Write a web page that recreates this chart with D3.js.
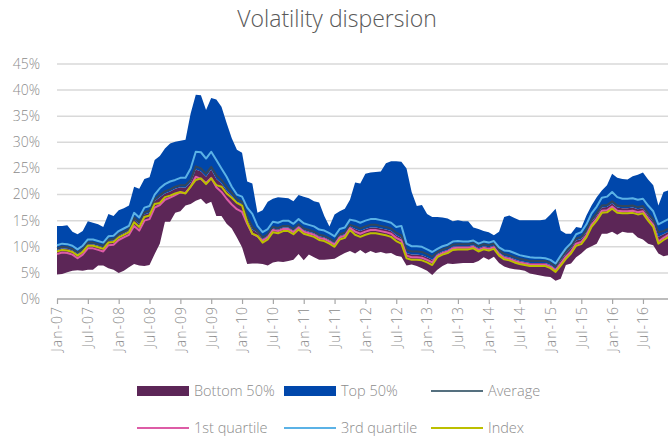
<!DOCTYPE html>
<html>
<head>
<meta charset="utf-8">
<script src="https://cdn.jsdelivr.net/npm/d3@7"></script>
<style>
  body { margin: 0; background: #fff; }
  svg { display: block; font-family: "Open Sans", "Segoe UI", sans-serif; font-weight: 300; }
</style>
</head>
<body>
<div id="chart"></div>
<script>
// monthly observations, Jan-07 .. Dec-16
var months = d3.timeMonth.range(new Date(2007, 0, 1), new Date(2017, 0, 1));

// bottom of the dispersion band
var minVol = [4.7,4.8,5.1,5.4,5.5,5.4,5.6,5.6,6.4,6.4, 5.9,5.6,5.0,5.4,6.1,6.7,6.4,6.3,6.5,8.6,
  10.6,14.8,14.8,16.5,16.8,17.9,18.2,18.8,19.2,18.2, 18.6,15.9,15.9,14.4,13.5,11.8,9.9,6.7,6.8,6.8,
  6.7,6.4,7.0,7.2,7.1,7.3,7.5,8.6,7.4,8.5, 8.0,7.5,7.5,7.6,7.7,8.3,8.8,9.2,8.7,9.4,
  8.7,9.2,8.8,9.0,8.7,8.8,8.3,8.1,6.4,6.6, 6.3,5.9,5.4,4.6,5.6,6.3,6.8,6.7,6.8,6.9,
  6.9,6.9,7.3,8.0,7.5,8.1,6.9,6.2,5.9,5.7, 5.6,5.4,4.9,4.7,4.5,4.3,4.2,3.5,3.9,6.5,
  6.8,8.0,8.7,9.6,10.1,10.6,12.5,12.5,12.9,12.3, 12.9,12.7,12.7,11.8,11.4,10.6,10.3,8.7,8.2,8.4];

// median (split between bottom and top 50%)
var medVol = [9.4,9.7,9.6,9.3,8.6,9.3,10.5,10.5,10.2,9.9, 11.1,11.2,12.1,12.6,13.1,15.2,14.3,16.2,16.5,18.7,
  19.5,20.2,20.6,21.1,21.4,21.3,22.3,24.8,24.4,23.4, 24.8,23.0,22.1,20.8,19.7,18.6,18.2,15.4,13.3,12.7,
  11.5,12.1,13.5,13.3,13.7,13.7,13.1,14.0,13.2,12.9, 12.6,12.0,11.8,11.3,10.7,12.1,12.4,13.9,13.4,13.0,
  13.4,13.7,13.7,13.5,13.3,13.0,12.2,11.7,8.8,8.5, 8.5,8.4,8.0,7.5,8.6,9.1,9.4,10.0,10.1,10.1,
  10.1,10.3,9.7,10.1,9.9,10.2,8.9,8.2,8.0,7.6, 7.3,7.1,6.9,6.9,6.9,6.9,6.5,5.8,7.4,8.7,
  9.7,11.2,11.5,12.8,14.8,16.0,17.5,17.6,18.3,17.5, 17.4,17.4,17.5,17.2,17.4,16.0,14.8,11.9,12.4,12.9];

// top of the dispersion band
var maxVol = [14.0,14.0,14.1,12.9,12.4,13.0,14.9,14.6,14.3,13.8, 16.3,15.9,17.0,17.4,17.9,21.5,21.1,23.0,23.3,26.6,
  27.4,28.8,29.8,30.1,30.3,30.5,35.5,39.1,39.0,36.2, 38.5,38.2,36.8,33.7,30.8,28.6,28.0,22.5,22.1,16.5,
  17.0,18.6,19.2,19.5,19.4,19.3,18.7,19.9,19.6,19.3, 18.7,18.5,15.9,13.9,16.2,16.8,17.3,19.0,22.3,22.1,
  24.0,24.2,24.3,24.4,26.0,26.4,26.4,26.3,25.0,20.5, 17.8,18.0,16.3,15.7,15.7,15.6,15.4,14.9,15.1,14.9,
  14.9,13.7,13.4,13.0,12.8,12.2,12.9,15.7,16.0,15.5, 15.1,15.1,15.1,15.1,15.1,15.2,16.2,17.3,13.1,12.5,
  12.5,13.8,13.6,16.0,17.9,19.5,20.8,21.8,24.0,23.2, 23.0,22.9,23.5,23.8,24.2,22.9,21.8,17.9,20.5,20.8];

var avgVol = [9.7,10.0,9.9,9.6,8.9,9.6,10.8,10.8,10.5,10.2, 11.4,11.5,12.4,12.9,13.4,15.6,14.7,16.6,16.9,19.1,
  19.9,20.6,21.0,21.5,21.8,21.8,22.8,25.4,25.0,24.0, 25.3,23.7,22.8,21.5,20.3,19.1,18.6,15.8,13.8,13.0,
  11.8,12.4,13.8,13.6,14.0,14.0,13.4,14.3,13.5,13.2, 12.9,12.3,12.1,11.6,11.0,12.4,12.7,14.2,13.9,13.5,
  13.9,14.2,14.2,14.0,13.8,13.5,12.7,12.2,9.4,9.1, 9.1,9.0,8.6,8.1,9.0,9.5,9.8,10.4,10.5,10.5,
  10.5,10.7,10.1,10.5,10.3,10.6,9.3,8.6,8.4,8.0, 7.7,7.5,7.3,7.3,7.3,7.3,6.9,6.2,7.8,9.1,
  10.1,11.6,11.9,13.2,15.2,16.4,17.9,18.0,18.7,17.9, 17.8,17.8,17.9,17.6,17.8,16.4,15.2,12.8,13.0,13.5];

var q1Vol = [8.6,8.9,8.8,8.5,7.8,8.5,9.7,9.7,9.4,9.1, 10.3,10.4,11.3,11.8,12.3,14.0,13.1,15.0,15.3,17.5,
  18.0,19.0,19.4,19.9,20.4,20.3,21.5,23.4,23.0,22.2, 23.2,21.4,20.5,19.2,18.1,17.2,16.7,14.4,12.5,12.0,
  11.2,11.8,13.2,13.0,13.4,13.4,12.8,13.7,12.9,12.6, 12.3,11.7,11.5,11.0,10.4,11.8,12.1,13.6,12.9,12.5,
  12.9,13.2,13.2,13.0,12.8,12.5,11.7,11.2,8.3,8.0, 8.0,7.9,7.5,7.0,8.3,8.8,9.1,9.7,9.8,9.8,
  9.8,10.0,9.4,9.8,9.6,9.9,8.6,7.9,7.7,7.3, 7.0,6.8,6.6,6.6,6.6,6.6,6.2,5.5,6.8,8.1,
  9.1,10.6,10.9,12.2,14.2,15.4,16.9,17.0,17.7,16.9, 16.8,16.8,16.9,16.6,16.8,15.4,14.2,11.0,11.7,12.3];

var q3Vol = [10.3,10.6,10.5,10.2,9.5,10.2,11.4,11.4,11.1,10.8, 12.0,12.1,13.0,13.5,14.0,16.5,15.6,17.5,17.8,20.0,
  21.2,22.0,22.5,22.8,23.2,23.2,25.0,28.2,28.1,26.9, 28.2,26.6,25.0,23.4,21.5,20.0,19.6,17.5,16.3,14.0,
  12.8,13.4,14.8,14.6,15.0,15.0,14.4,15.3,14.5,14.2, 13.9,13.3,13.1,12.6,12.0,13.4,13.7,15.2,15.0,14.6,
  15.0,15.3,15.3,15.1,14.9,14.6,13.8,14.0,10.6,10.1, 10.1,10.0,9.5,9.0,9.6,10.1,10.4,11.0,11.1,11.0,
  11.0,11.2,10.6,11.0,10.8,11.1,9.9,9.3,9.2,8.8, 8.4,8.2,8.0,7.9,7.9,7.8,7.5,6.8,8.3,9.7,
  10.7,12.4,12.8,14.3,16.4,17.7,19.4,19.6,20.5,19.5, 19.2,19.2,19.3,19.0,19.2,17.9,16.8,14.3,14.8,15.3];

var indexVol = [9.1,9.4,9.3,9.0,8.3,9.0,10.2,10.2,9.9,9.6, 10.8,10.9,11.8,12.3,12.8,14.7,13.8,15.7,16.0,18.2,
  18.4,19.5,19.8,20.2,20.5,20.2,21.5,22.8,23.1,22.0, 23.1,21.8,21.5,20.2,19.4,18.4,17.9,14.7,12.5,12.1,
  10.8,11.4,12.8,12.6,13.0,13.0,12.4,13.3,12.5,12.2, 11.9,11.3,11.1,10.6,10.0,11.4,11.7,13.2,12.3,11.9,
  12.3,12.6,12.6,12.4,12.2,11.9,11.1,10.6,7.8,7.5, 7.5,7.4,7.0,6.5,8.0,8.5,8.8,9.4,9.5,9.5,
  9.5,9.7,9.1,9.5,9.3,9.6,8.3,7.6,7.4,7.0, 6.7,6.5,6.3,6.3,6.3,6.3,5.9,5.2,6.4,7.7,
  8.7,10.2,10.5,11.8,13.8,15.0,16.5,16.6,17.3,16.5, 16.4,16.4,16.5,16.2,16.4,15.0,13.8,10.6,11.3,11.9];

var yTicks = [0, 5, 10, 15, 20, 25, 30, 35, 40, 45];

var colors = {
  bottom: "#5c2657",
  top: "#0047ab",
  avg: "#33475c",
  q1: "#dd5ca6",
  q3: "#5bb2e6",
  index: "#bcbf00"
};

var W = 668, H = 438;
var margin = { top: 64, right: 0, bottom: 139, left: 57 };

var svg = d3.select("#chart").append("svg")
  .attr("width", W)
  .attr("height", H);

var fmtMonth = d3.timeFormat("%b-%y");
var labels = months.map(fmtMonth);

var x = d3.scalePoint()
  .domain(labels)
  .range([margin.left, margin.left + 5.14 * (labels.length - 1)]);

var y = d3.scaleLinear()
  .domain([0, 45])
  .range([H - margin.bottom, margin.top]);

// title
svg.append("text")
  .attr("x", 337)
  .attr("y", 27)
  .attr("text-anchor", "middle")
  .style("font-size", "23px")
  .style("fill", "#595959")
  .text("Volatility dispersion");

// gridlines
svg.append("g")
  .selectAll("line")
  .data(yTicks.slice(1))
  .enter()
  .append("line")
  .attr("x1", margin.left)
  .attr("x2", W)
  .attr("y1", function (d) { return y(d); })
  .attr("y2", function (d) { return y(d); })
  .attr("stroke", "#d9d9d9")
  .attr("stroke-width", 1.5);

var rows = labels.map(function (m, i) {
  return { m: m, min: minVol[i], med: medVol[i], max: maxVol[i],
    avg: avgVol[i], q1: q1Vol[i], q3: q3Vol[i], idx: indexVol[i] };
});

var bottomArea = d3.area()
  .x(function (d) { return x(d.m); })
  .y0(function (d) { return y(d.min); })
  .y1(function (d) { return y(d.med); });

var topArea = d3.area()
  .x(function (d) { return x(d.m); })
  .y0(function (d) { return y(d.med); })
  .y1(function (d) { return y(d.max); });

svg.append("path").datum(rows)
  .attr("d", bottomArea)
  .attr("fill", colors.bottom);

svg.append("path").datum(rows)
  .attr("d", topArea)
  .attr("fill", colors.top);

function drawLine(key, color) {
  var line = d3.line()
    .x(function (d) { return x(d.m); })
    .y(function (d) { return y(d[key]); });
  svg.append("path").datum(rows)
    .attr("d", line)
    .attr("fill", "none")
    .attr("stroke", color)
    .attr("stroke-width", 2)
    .attr("stroke-linejoin", "round");
}

drawLine("avg", colors.avg);
drawLine("q1", colors.q1);
drawLine("q3", colors.q3);
drawLine("idx", colors.index);

// y axis labels (no axis line)
svg.append("g")
  .selectAll("text")
  .data(yTicks)
  .enter()
  .append("text")
  .attr("x", 40)
  .attr("y", function (d) { return y(d); })
  .attr("dy", "0.35em")
  .attr("text-anchor", "end")
  .style("font-size", "14px")
  .style("fill", "#8c8c8c")
  .text(function (d) { return d + "%"; });

// x axis
var xAxis = d3.axisBottom(x)
  .tickValues(labels.filter(function (d) { return /^(Jan|Jul)/.test(d); }))
  .tickSize(5)
  .tickSizeOuter(0);

var gx = svg.append("g")
  .attr("transform", "translate(0," + y(0) + ")")
  .call(xAxis);

gx.select(".domain")
  .attr("d", "M" + margin.left + ",0H" + W)
  .attr("stroke", "#a6a6a6")
  .attr("stroke-width", 1.5);
gx.selectAll(".tick line").attr("stroke", "#a6a6a6").attr("stroke-width", 1.2);
gx.selectAll(".tick text")
  .attr("transform", "rotate(-90)")
  .attr("x", -7)
  .attr("y", 0)
  .attr("dy", "0.35em")
  .attr("text-anchor", "end")
  .style("font-family", "\"Open Sans\", sans-serif")
  .style("font-weight", 300)
  .style("font-size", "14px")
  .style("letter-spacing", "1px")
  .style("fill", "#8c8c8c");

// legend
var legendItems = [
  { name: "Bottom 50%", color: colors.bottom, kind: "box", col: 0, row: 0 },
  { name: "Top 50%", color: colors.top, kind: "box", col: 1, row: 0 },
  { name: "Average", color: "#55707f", kind: "line", col: 2, row: 0 },
  { name: "1st quartile", color: colors.q1, kind: "line", col: 0, row: 1 },
  { name: "3rd quartile", color: colors.q3, kind: "line", col: 1, row: 1 },
  { name: "Index", color: colors.index, kind: "line", col: 2, row: 1 }
];

var legend = svg.append("g")
  .selectAll("g")
  .data(legendItems)
  .enter()
  .append("g")
  .attr("transform", function (d) {
    return "translate(" + (137 + d.col * 147) + "," + (391 + d.row * 37) + ")";
  });

legend.filter(function (d) { return d.kind == "box"; })
  .append("rect")
  .attr("x", 0)
  .attr("y", -5)
  .attr("width", 52)
  .attr("height", 10)
  .attr("fill", function (d) { return d.color; });

legend.filter(function (d) { return d.kind == "line"; })
  .append("line")
  .attr("x1", 0)
  .attr("x2", 52)
  .attr("stroke", function (d) { return d.color; })
  .attr("stroke-width", 2);

legend.append("text")
  .attr("x", 57)
  .attr("dy", "0.35em")
  .style("font-size", "14.5px")
  .style("fill", "#8c8c8c")
  .text(function (d) { return d.name; });
</script>
</body>
</html>
